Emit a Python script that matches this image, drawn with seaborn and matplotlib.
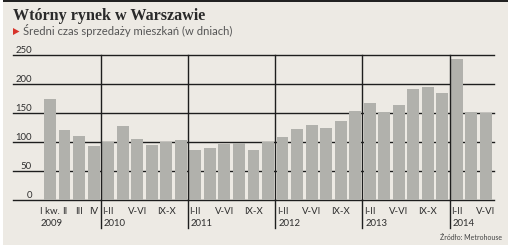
import matplotlib
matplotlib.use("Agg")
import matplotlib.pyplot as plt
import seaborn as sns
import pandas as pd
from matplotlib.patches import Rectangle, Polygon
import matplotlib.transforms as mtransforms

# ---- data ----
years = ["2009", "2010", "2011", "2012", "2013", "2014"]
bars_per_year = [4, 6, 6, 6, 6, 3]
period_labels = (["I kw.", "II", "III", "IV"]
                 + ["I-II", "", "V-VI", "", "IX-X", ""] * 4
                 + ["I-II", "", "V-VI"])
values = [175, 120, 110, 93,
          100, 127, 105, 94, 100, 104,
          87, 90, 97, 99, 87, 100,
          108, 122, 129, 125, 137, 154,
          168, 152, 163, 191, 195, 185,
          243, 152, 150]
y_ticks = [0, 50, 100, 150, 200, 250]

title = "Wtórny rynek w Warszawie"
subtitle = "Średni czas sprzedaży mieszkań (w dniach)"
source = "Źródło: Metrohouse"

ids = [f"{i:02d}" for i in range(len(values))]
df = pd.DataFrame({"id": ids, "value": values})

BG = "#edeae4"
BAR = "#b1b1ac"
DARK = "#1e1e1e"
TXT = "#2e2e2e"
FONT = ["Lato", "DejaVu Sans"]

W, H = 508, 252
fig = plt.figure(figsize=(W / 100, H / 100), dpi=100, facecolor="white")

# background panel
fig.add_artist(Rectangle((3 / W, 1 - 245 / H), 1 - 3 / W, 245 / H,
                         transform=fig.transFigure, facecolor=BG,
                         edgecolor="none", zorder=-10))
# top dark rule
fig.add_artist(Rectangle((3 / W, 1 - 2 / H), 1 - 3 / W, 2 / H,
                         transform=fig.transFigure, facecolor="#222222",
                         edgecolor="none", zorder=-5))

ax = fig.add_axes([13 / W, 52 / H, 481 / W, 145 / H])
ax.set_facecolor("none")

sns.barplot(data=df, x="id", y="value", order=ids, color=BAR,
            width=0.82, saturation=1, ax=ax)
for p in ax.patches:
    p.set_zorder(2)
    p.set_edgecolor("none")

pitch = 14.533
ax.set_xlim((13 - 50) / pitch, (494 - 50) / pitch)
ax.set_ylim(0, 250)

for s in ax.spines.values():
    s.set_visible(False)

# horizontal grid lines (behind bars)
ax.set_yticks(y_ticks)
for v in y_ticks:
    ax.axhline(v, color=DARK, lw=1.0, zorder=0.5, clip_on=False)

ax.tick_params(axis="y", length=0, pad=-19 * 0.72, labelsize=6.9,
               labelcolor=TXT)
for lab in ax.get_yticklabels():
    lab.set_horizontalalignment("right")
    lab.set_verticalalignment("bottom")
    lab.set_family(FONT)
ax.set_ylabel("")
ax.set_xlabel("")

ax.set_xticks(range(len(values)))
ax.set_xticklabels(period_labels)
ax.tick_params(axis="x", length=0, pad=5, labelsize=6.9, labelcolor=TXT)
for lab in ax.get_xticklabels():
    lab.set_family(FONT)

# year separators and year labels
trans = mtransforms.blended_transform_factory(ax.transData, ax.transAxes)
start = 0
for yi, (yr, n) in enumerate(zip(years, bars_per_year)):
    if yi > 0:
        ax.axvline(start - 0.5, ymin=-28 / 145, ymax=1, color=DARK, lw=1.0,
                   clip_on=False, zorder=3)
        xlab = start - 0.5 + 3 / pitch
    else:
        xlab = start - 9 / pitch
    ax.text(xlab, -24 / 145, yr, transform=trans, ha="left", va="center",
            fontsize=6.9, color=TXT, family=FONT)
    start += n

# title / subtitle
fig.text(13 / W, 1 - 20 / H, title, fontsize=11.6, fontweight="bold",
         family="Liberation Serif", color="#2a2a2a", va="baseline", ha="left")
fig.text(23 / W, 1 - 35 / H, subtitle, fontsize=8.1, color="#555555",
         va="baseline", ha="left", family=FONT)
fig.add_artist(Polygon([(13 / W, 1 - 28 / H), (13 / W, 1 - 35 / H), (19.5 / W, 1 - 31.5 / H)],
                       closed=True, transform=fig.transFigure,
                       facecolor="#d7332a", edgecolor="none"))
fig.text(502 / W, 1 - 237 / H, source, fontsize=5.0, color="#444444",
         va="center", ha="right", family=FONT)

fig.savefig("out.png", dpi=100, facecolor="white")
